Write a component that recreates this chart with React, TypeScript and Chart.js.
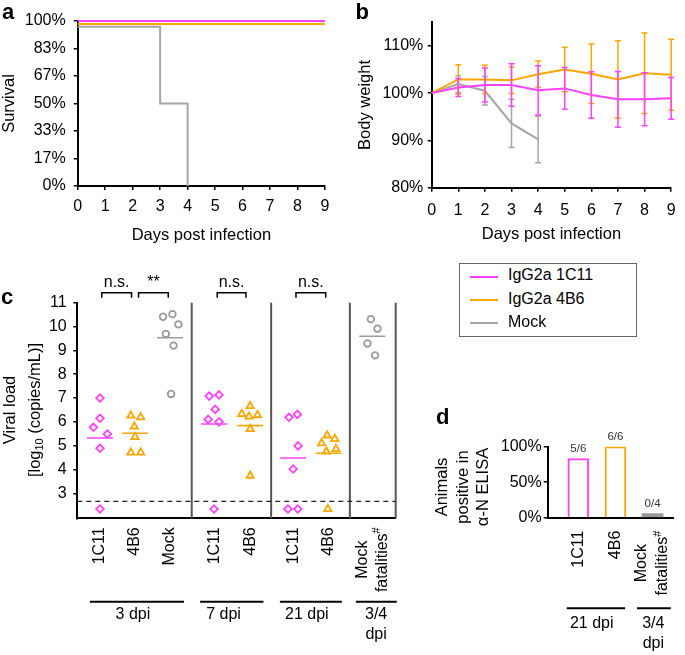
import React, { useEffect, useRef } from 'react';
import { Chart, registerables } from 'chart.js';

Chart.register(...registerables);

const FONT = '"Liberation Sans", Arial, Helvetica, sans-serif';
const MAGENTA = '#FF40FF';
const ORANGE = '#FFA500';
const GRAY = '#A6A6A6';
const BLACK = '#000000';

// ---------------- Panel a: survival ----------------
const days = [0, 1, 2, 3, 4, 5, 6, 7, 8, 9];
const survivalTicks = [0, 16.667, 33.333, 50, 66.667, 83.333, 100];
const survivalTickLabels = ['0%', '17%', '33%', '50%', '67%', '83%', '100%'];
const survival1C11 = [100, 100, 100, 100, 100, 100, 100, 100, 100, 100];
const survival4B6 = [98.2, 98.2, 98.2, 98.2, 98.2, 98.2, 98.2, 98.2, 98.2, 98.2];
const mockDays = [0, 1, 2, 3, 4];
const survivalMock = [96.5, 96.5, 96.5, 50, 0];

// ---------------- Panel b: body weight (mean, SD) ----------------
const weightTicks = [80, 90, 100, 110];
const weight1C11 = [100, 101.2, 101.7, 101.7, 100.6, 101.0, 99.6, 98.7, 98.7, 98.9];
const sd1C11 = [0, 1.9, 3.6, 4.5, 5.2, 4.4, 4.9, 5.9, 5.6, 4.4];
const weight4B6 = [100, 102.9, 102.9, 102.7, 104.0, 105.0, 104.1, 102.9, 104.2, 103.9];
const sd4B6 = [0, 3.1, 3.0, 2.8, 2.8, 4.7, 6.3, 8.2, 8.5, 7.5];
const weightMock = [100, 101.9, 100.5, 93.6, 90.2];
const sdMock = [0, 1.8, 3.0, 5.1, 4.9];

// ---------------- Panel c: viral load ----------------
const viralGroupNames = ['1C11', '4B6', 'Mock', '1C11', '4B6', '1C11', '4B6', 'Mock\nfatalities#'];
const viralGroupPos = [1, 2, 3, 4.26, 5.29, 6.52, 7.54, 8.78];
const viralGroupSeries = [0, 1, 2, 0, 1, 0, 1, 2];
const viral3dpi1C11 = [7.0, 6.15, 5.77, 5.49, 4.89, 2.34];
const jitter3dpi1C11 = [0, 0, -0.19, 0.21, 0, 0];
const viral3dpi4B6 = [6.26, 6.19, 5.8, 5.36, 4.71, 4.71];
const jitter3dpi4B6 = [-0.12, 0.16, -0.02, 0, -0.12, 0.16];
const viral3dpiMock = [10.41, 10.52, 10.09, 9.69, 9.2, 7.17];
const jitter3dpiMock = [-0.2, 0.07, 0.24, -0.12, 0.1, 0.03];
const viral7dpi1C11 = [7.08, 7.13, 6.52, 6.1, 6.0, 2.34];
const jitter7dpi1C11 = [-0.14, 0.14, 0.03, -0.17, 0.14, 0];
const viral7dpi4B6 = [6.66, 6.33, 6.22, 6.28, 5.7, 3.74];
const jitter7dpi4B6 = [0, -0.24, -0.03, 0.21, 0, 0];
const viral21dpi1C11 = [6.19, 6.31, 4.99, 4.02, 2.34, 2.34];
const jitter21dpi1C11 = [-0.12, 0.12, 0.14, 0, -0.15, 0.13];
const viral21dpi4B6 = [5.43, 5.28, 5.1, 4.86, 4.75, 2.34];
const jitter21dpi4B6 = [-0.05, 0.17, -0.21, 0.2, -0.07, -0.03];
const viralFatalMock = [10.31, 9.91, 9.29, 8.79];
const jitterFatalMock = [-0.04, 0.15, -0.14, 0.08];
const viralMeans = [5.32, 5.52, 9.53, 5.91, 5.84, 4.48, 4.68, 9.59];
const detectionLimit = 2.66;
const viralTicks = [3, 4, 5, 6, 7, 8, 9, 10, 11];
const viralXMin = 0.35;
const viralXMax = 9.45;
const timepointDividers = [3.62, 5.89, 8.14];
const sigBrackets = [[1.05, 1.9], [2.1, 2.95], [4.35, 5.17], [6.6, 7.45]];
const sigLabels = ['n.s.', '**', 'n.s.', 'n.s.'];
const viralTimepoints = ['3 dpi', '7 dpi', '21 dpi', '3/4\ndpi'];
const viralTimepointSpans = [[0.71, 3.4], [3.86, 5.67], [6.14, 7.91], [8.31, 9.48]];
const viralTimepointTextPos = [1.94, 4.53, 6.91, 8.89];

// ---------------- Panel d: ELISA ----------------
const elisaNames = ['1C11', '4B6', 'Mock\nfatalities#'];
const elisaPos = [0, 1, 2];
const elisaPercent = [83.3, 100, 0];
const elisaCounts = ['5/6', '6/6', '0/4'];
const elisaTicks = [0, 50, 100];
const elisaTimepoints = ['21 dpi', '3/4\ndpi'];
const elisaTimepointSpans = [[-0.31, 1.26], [1.58, 2.49]];
const elisaTimepointTextPos = [0.36, 2.02];

const legendLabels = ['IgG2a 1C11', 'IgG2a 4B6', 'Mock'];
const legendColors = [MAGENTA, ORANGE, GRAY];

// ---------------- helpers ----------------
const tickFont = { family: FONT, size: 16 };
const titleFont = { family: FONT, size: 16.5 };

function axisLines() {
  return {
    grid: { drawOnChartArea: false, drawTicks: true, tickLength: 4, color: BLACK, lineWidth: 1.5 },
    border: { display: true, color: BLACK, width: 2 },
  };
}

function splitSup(line: string) {
  if (line.endsWith('#')) return { main: line.slice(0, -1), sup: '#' };
  return { main: line, sup: '' };
}

function drawCategoryLabels(chart: any, positions: number[], names: string[], gap: number, lineGap: number, size: number) {
  const { ctx, chartArea } = chart;
  const xs = chart.scales.x;
  const font = `${size}px ${FONT}`;
  const supFont = `${Math.round(size * 0.7)}px ${FONT}`;
  ctx.save();
  ctx.fillStyle = BLACK;
  ctx.textBaseline = 'middle';
  names.forEach((name, i) => {
    const lines = name.split('\n').map(splitSup);
    const widths = lines.map((l) => {
      ctx.font = font;
      let w = ctx.measureText(l.main).width;
      if (l.sup) {
        ctx.font = supFont;
        w += ctx.measureText(l.sup).width;
      }
      return w;
    });
    const maxW = Math.max(...widths);
    const cx = xs.getPixelForValue(positions[i]);
    const cy = chartArea.bottom + gap + maxW / 2;
    lines.forEach((l, j) => {
      const x = cx + (j - (lines.length - 1) / 2) * lineGap;
      const yEnd = cy - widths[j] / 2;
      ctx.save();
      ctx.translate(x, yEnd);
      ctx.rotate(-Math.PI / 2);
      let supW = 0;
      if (l.sup) {
        ctx.font = supFont;
        supW = ctx.measureText(l.sup).width;
        ctx.textAlign = 'left';
        ctx.fillText(l.sup, -supW, -size * 0.3);
      }
      ctx.font = font;
      ctx.textAlign = 'right';
      ctx.fillText(l.main, -supW, 0);
      ctx.restore();
    });
  });
  ctx.restore();
}

function drawTimepoints(chart: any, names: string[], spans: number[][], textPos: number[], lineOffset: number, textOffset: number, lineStep: number, size: number) {
  const { ctx, chartArea } = chart;
  const xs = chart.scales.x;
  ctx.save();
  ctx.strokeStyle = BLACK;
  ctx.lineWidth = 2;
  ctx.fillStyle = BLACK;
  ctx.font = `${size}px ${FONT}`;
  ctx.textAlign = 'center';
  ctx.textBaseline = 'middle';
  names.forEach((name, i) => {
    const y = chartArea.bottom + lineOffset;
    ctx.beginPath();
    ctx.moveTo(xs.getPixelForValue(spans[i][0]), y);
    ctx.lineTo(xs.getPixelForValue(spans[i][1]), y);
    ctx.stroke();
    name.split('\n').forEach((t, j) => {
      ctx.fillText(t, xs.getPixelForValue(textPos[i]), chartArea.bottom + textOffset + j * lineStep);
    });
  });
  ctx.restore();
}

const common = {
  animation: false,
  responsive: false,
  maintainAspectRatio: false,
  events: [],
  plugins: { legend: { display: false }, tooltip: { enabled: false } },
};

// ---------------- Chart configs ----------------
function survivalConfig(): any {
  const line = (data: any[], color: string, extra: any = {}) => ({
    data,
    borderColor: color,
    borderWidth: 2,
    pointRadius: 0,
    clip: false,
    ...extra,
  });
  return {
    type: 'line',
    data: {
      datasets: [
        line(days.map((d, i) => ({ x: d, y: survival1C11[i] })), MAGENTA),
        line(days.map((d, i) => ({ x: d, y: survival4B6[i] })), ORANGE),
        line(mockDays.map((d, i) => ({ x: d, y: survivalMock[i] })), GRAY, { stepped: 'before' }),
      ],
    },
    options: {
      ...common,
      layout: { padding: { top: 21, right: 15, bottom: 0, left: 0 } },
      scales: {
        x: {
          type: 'linear', min: 0, max: 9,
          afterBuildTicks: (s: any) => { s.ticks = days.map((v) => ({ value: v })); },
          ticks: { font: tickFont, color: BLACK, padding: 7.4, maxRotation: 0, autoSkip: false },
          ...axisLines(),
          title: { display: true, text: 'Days post infection', font: titleFont, color: BLACK, padding: { top: 0, bottom: 4.4 } },
          afterFit: (s: any) => { s.height = 64; },
        },
        y: {
          type: 'linear', min: 0, max: 100,
          afterBuildTicks: (s: any) => { s.ticks = survivalTicks.map((v) => ({ value: v })); },
          ticks: { font: tickFont, color: BLACK, padding: 8, callback: (_v: any, i: number) => survivalTickLabels[i] },
          ...axisLines(),
          title: { display: true, text: 'Survival', font: titleFont, color: BLACK, padding: { top: 0, bottom: 0 } },
          afterFit: (s: any) => { s.width = 77.7; },
        },
      },
    },
  };
}

const errorBarPlugin = {
  id: 'errorBars',
  afterDatasetsDraw(chart: any) {
    const { ctx } = chart;
    const xs = chart.scales.x;
    const ys = chart.scales.y;
    ctx.save();
    ctx.lineWidth = 1.5;
    for (let d = chart.data.datasets.length - 1; d >= 0; d--) {
      const ds = chart.data.datasets[d];
      const sd: number[] = ds.sd;
      ctx.strokeStyle = ds.borderColor;
      ds.data.forEach((p: any, i: number) => {
        if (!sd[i]) return;
        const x = xs.getPixelForValue(p.x);
        const yTop = ys.getPixelForValue(p.y + sd[i]);
        const yBot = ys.getPixelForValue(p.y - sd[i]);
        ctx.beginPath();
        ctx.moveTo(x, yTop);
        ctx.lineTo(x, yBot);
        ctx.moveTo(x - 3, yTop);
        ctx.lineTo(x + 3, yTop);
        ctx.moveTo(x - 3, yBot);
        ctx.lineTo(x + 3, yBot);
        ctx.stroke();
      });
    }
    ctx.restore();
  },
};

function weightConfig(): any {
  const line = (xs: number[], ys: number[], sd: number[], color: string) => ({
    data: xs.map((d, i) => ({ x: d, y: ys[i] })),
    sd,
    borderColor: color,
    borderWidth: 2,
    pointRadius: 0,
    clip: false,
  });
  return {
    type: 'line',
    data: {
      datasets: [
        line(days, weight1C11, sd1C11, MAGENTA),
        line(days, weight4B6, sd4B6, ORANGE),
        line(mockDays, weightMock, sdMock, GRAY),
      ],
    },
    plugins: [errorBarPlugin],
    options: {
      ...common,
      layout: { padding: { top: 22.2, right: 5, bottom: 0, left: 0 } },
      scales: {
        x: {
          type: 'linear', min: 0, max: 9,
          afterBuildTicks: (s: any) => { s.ticks = days.map((v) => ({ value: v })); },
          ticks: { font: tickFont, color: BLACK, padding: 9.4, maxRotation: 0, autoSkip: false },
          ...axisLines(),
          title: { display: true, text: 'Days post infection', font: titleFont, color: BLACK, padding: { top: 0, bottom: 5.4 } },
          afterFit: (s: any) => { s.height = 62.3; },
        },
        y: {
          type: 'linear', min: 80, max: 115,
          afterBuildTicks: (s: any) => { s.ticks = weightTicks.map((v) => ({ value: v })); },
          ticks: { font: tickFont, color: BLACK, padding: 4.4, callback: (v: any) => `${v}%` },
          ...axisLines(),
          title: { display: true, text: 'Body weight', font: titleFont, color: BLACK, padding: { top: 15.4, bottom: 0 } },
          afterFit: (s: any) => { s.width = 91.7; },
        },
      },
    },
  };
}

const viralSeriesStyle = [
  { color: MAGENTA, pointStyle: 'rectRot', radius: 3.8 },
  { color: ORANGE, pointStyle: 'triangle', radius: 4.2 },
  { color: '#9A9A9A', pointStyle: 'circle', radius: 3.3 },
];

const viralPlugin = {
  id: 'viralDecor',
  beforeDatasetsDraw(chart: any) {
    const { ctx, chartArea } = chart;
    const xs = chart.scales.x;
    ctx.save();
    ctx.strokeStyle = '#555555';
    ctx.lineWidth = 2;
    [...timepointDividers, viralXMax].forEach((v) => {
      const x = xs.getPixelForValue(v);
      ctx.beginPath();
      ctx.moveTo(x, chartArea.top);
      ctx.lineTo(x, chartArea.bottom);
      ctx.stroke();
    });
    ctx.restore();
  },
  afterDraw(chart: any) {
    const { ctx, chartArea } = chart;
    const xs = chart.scales.x;
    ctx.save();
    ctx.strokeStyle = BLACK;
    ctx.lineWidth = 1.5;
    ctx.fillStyle = BLACK;
    ctx.font = `16px ${FONT}`;
    ctx.textAlign = 'center';
    ctx.textBaseline = 'alphabetic';
    sigBrackets.forEach(([a, b], i) => {
      const x1 = xs.getPixelForValue(a);
      const x2 = xs.getPixelForValue(b);
      const yTop = chartArea.top - 10;
      const yLeg = chartArea.top - 5;
      ctx.beginPath();
      ctx.moveTo(x1, yLeg);
      ctx.lineTo(x1, yTop);
      ctx.lineTo(x2, yTop);
      ctx.lineTo(x2, yLeg);
      ctx.stroke();
      ctx.fillText(sigLabels[i], (x1 + x2) / 2, chartArea.top - 15.5);
    });
    ctx.restore();
    drawCategoryLabels(chart, viralGroupPos, viralGroupNames, 9, 20, 16);
    drawTimepoints(chart, viralTimepoints, viralTimepointSpans, viralTimepointTextPos, 83.4, 96, 20.5, 16);
  },
};

function viralConfig(): any {
  const groups = [
    [viral3dpi1C11, jitter3dpi1C11],
    [viral3dpi4B6, jitter3dpi4B6],
    [viral3dpiMock, jitter3dpiMock],
    [viral7dpi1C11, jitter7dpi1C11],
    [viral7dpi4B6, jitter7dpi4B6],
    [viral21dpi1C11, jitter21dpi1C11],
    [viral21dpi4B6, jitter21dpi4B6],
    [viralFatalMock, jitterFatalMock],
  ];
  const pointSets = groups.map(([vals, jit], g) => {
    const st = viralSeriesStyle[viralGroupSeries[g]];
    return {
      data: vals.map((v, i) => ({ x: viralGroupPos[g] + jit[i], y: v })),
      showLine: false,
      pointStyle: st.pointStyle,
      pointRadius: st.radius,
      borderColor: st.color,
      pointBorderColor: st.color,
      backgroundColor: 'rgba(255,255,255,0)',
      pointBackgroundColor: 'rgba(255,255,255,0)',
      pointBorderWidth: 1.8,
      borderWidth: 1.8,
    };
  });
  const meanSets = viralMeans.map((m, g) => {
    const st = viralSeriesStyle[viralGroupSeries[g]];
    return {
      data: [{ x: viralGroupPos[g] - 0.37, y: m }, { x: viralGroupPos[g] + 0.37, y: m }],
      showLine: true,
      borderColor: st.color,
      borderWidth: 1.6,
      pointRadius: 0,
    };
  });
  const limitSet = {
    data: [{ x: viralXMin, y: detectionLimit }, { x: viralXMax, y: detectionLimit }],
    showLine: true,
    borderColor: '#222222',
    borderWidth: 1.2,
    borderDash: [5, 4],
    pointRadius: 0,
  };
  return {
    type: 'scatter',
    data: { datasets: [...pointSets, ...meanSets, limitSet] },
    plugins: [viralPlugin],
    options: {
      ...common,
      layout: { padding: { top: 32.7, right: 24.3, bottom: 0, left: 0 } },
      scales: {
        x: {
          type: 'linear', min: viralXMin, max: viralXMax,
          ticks: { display: false },
          grid: { display: false },
          border: { display: true, color: BLACK, width: 2 },
          afterFit: (s: any) => { s.height = 136.7; },
        },
        y: {
          type: 'linear', min: 1.95, max: 11,
          afterBuildTicks: (s: any) => { s.ticks = viralTicks.map((v) => ({ value: v })); },
          ticks: { font: tickFont, color: BLACK, padding: 6.6, callback: (v: any) => String(v) },
          ...axisLines(),
          afterFit: (s: any) => { s.width = 77.3; },
        },
      },
    },
  };
}

const elisaPlugin = {
  id: 'elisaDecor',
  afterDraw(chart: any) {
    const { ctx } = chart;
    const meta = chart.getDatasetMeta(0);
    ctx.save();
    ctx.fillStyle = '#333333';
    ctx.font = `11.5px ${FONT}`;
    ctx.textAlign = 'center';
    ctx.textBaseline = 'middle';
    meta.data.forEach((bar: any, i: number) => {
      ctx.fillText(elisaCounts[i], bar.x, bar.y - 10);
    });
    ctx.restore();
    drawCategoryLabels(chart, elisaPos, elisaNames, 13, 21, 16);
    drawTimepoints(chart, elisaTimepoints, elisaTimepointSpans, elisaTimepointTextPos, 90.6, 105.7, 20, 16);
  },
};

function elisaConfig(): any {
  return {
    type: 'bar',
    data: {
      datasets: [
        {
          data: elisaPos.map((p, i) => ({ x: p, y: elisaPercent[i] })),
          backgroundColor: ['#ffffff', '#ffffff', '#999999'],
          borderColor: [MAGENTA, ORANGE, '#999999'],
          borderWidth: [2, 2, 0],
          barThickness: 21,
          minBarLength: 4,
        },
      ],
    },
    plugins: [elisaPlugin],
    options: {
      ...common,
      layout: { padding: { top: 56.7, right: 12, bottom: 0, left: 0 } },
      scales: {
        x: {
          type: 'linear', min: -0.825, max: 2.55, offset: false,
          ticks: { display: false },
          grid: { display: false },
          border: { display: true, color: BLACK, width: 2 },
          afterFit: (s: any) => { s.height = 137.3; },
        },
        y: {
          type: 'linear', min: 0, max: 100,
          afterBuildTicks: (s: any) => { s.ticks = elisaTicks.map((v) => ({ value: v })); },
          ticks: { font: tickFont, color: BLACK, padding: 2, callback: (v: any) => `${v}%` },
          ...axisLines(),
          afterFit: (s: any) => { s.width = 127.7; },
        },
      },
    },
  };
}

// ---------------- React components ----------------
function ChartCanvas({ left, top, width, height, config }: any) {
  const ref = useRef<HTMLCanvasElement | null>(null);
  useEffect(() => {
    if (!ref.current) return;
    const chart = new Chart(ref.current, config());
    return () => chart.destroy();
  }, []);
  return (
    <canvas
      ref={ref}
      width={width}
      height={height}
      style={{ position: 'absolute', left, top, width, height }}
    />
  );
}

const baseText: any = { position: 'absolute', fontFamily: FONT, color: BLACK, whiteSpace: 'nowrap', lineHeight: 1 };

function Letter({ left, top, children }: any) {
  return <div style={{ ...baseText, left, top, fontSize: 22, fontWeight: 'bold' }}>{children}</div>;
}

export default function App() {
  return (
    <div style={{ position: 'absolute', left: 0, top: 0, width: 685, height: 655, background: '#ffffff', overflow: 'hidden' }}>
      <ChartCanvas left={0} top={0} width={340} height={250} config={survivalConfig} />
      <ChartCanvas left={340} top={0} width={345} height={250} config={weightConfig} />
      <ChartCanvas left={0} top={270} width={420} height={385} config={viralConfig} />
      <ChartCanvas left={420} top={390} width={265} height={265} config={elisaConfig} />

      <Letter left={2} top={0.7}>a</Letter>
      <Letter left={355.5} top={0.7}>b</Letter>
      <Letter left={1} top={286.4}>c</Letter>
      <Letter left={436} top={406.4}>d</Letter>

      {/* legend */}
      <div style={{ position: 'absolute', left: 459, top: 263.3, width: 178.3, height: 73.4, border: '1.5px solid #666', boxSizing: 'border-box' }} />
      {legendLabels.map((lbl, i) => {
        const cy = 276.7 + i * 23.3;
        return (
          <React.Fragment key={lbl}>
            <div style={{ position: 'absolute', left: 470, top: cy - 1, width: 28, height: 2, background: legendColors[i] }} />
            <div style={{ ...baseText, left: 508, top: cy - 1.5, fontSize: 16, transform: 'translateY(-50%)' }}>{lbl}</div>
          </React.Fragment>
        );
      })}

      {/* panel c y title */}
      <div
        style={{
          ...baseText,
          left: 21,
          top: 410,
          fontSize: 16.5,
          lineHeight: '24.5px',
          textAlign: 'center',
          transform: 'translate(-50%, -50%) rotate(-90deg)',
        }}
      >
        Viral load
        <br />
        [log<sub style={{ fontSize: 11, verticalAlign: '-3px', lineHeight: 0 }}>10</sub> (copies/mL)]
      </div>

      {/* panel d y title */}
      <div
        style={{
          ...baseText,
          left: 462,
          top: 486.7,
          fontSize: 16.5,
          lineHeight: '20.7px',
          textAlign: 'center',
          transform: 'translate(-50%, -50%) rotate(-90deg)',
        }}
      >
        Animals
        <br />
        positive in
        <br />
        α-N ELISA
      </div>
    </div>
  );
}
